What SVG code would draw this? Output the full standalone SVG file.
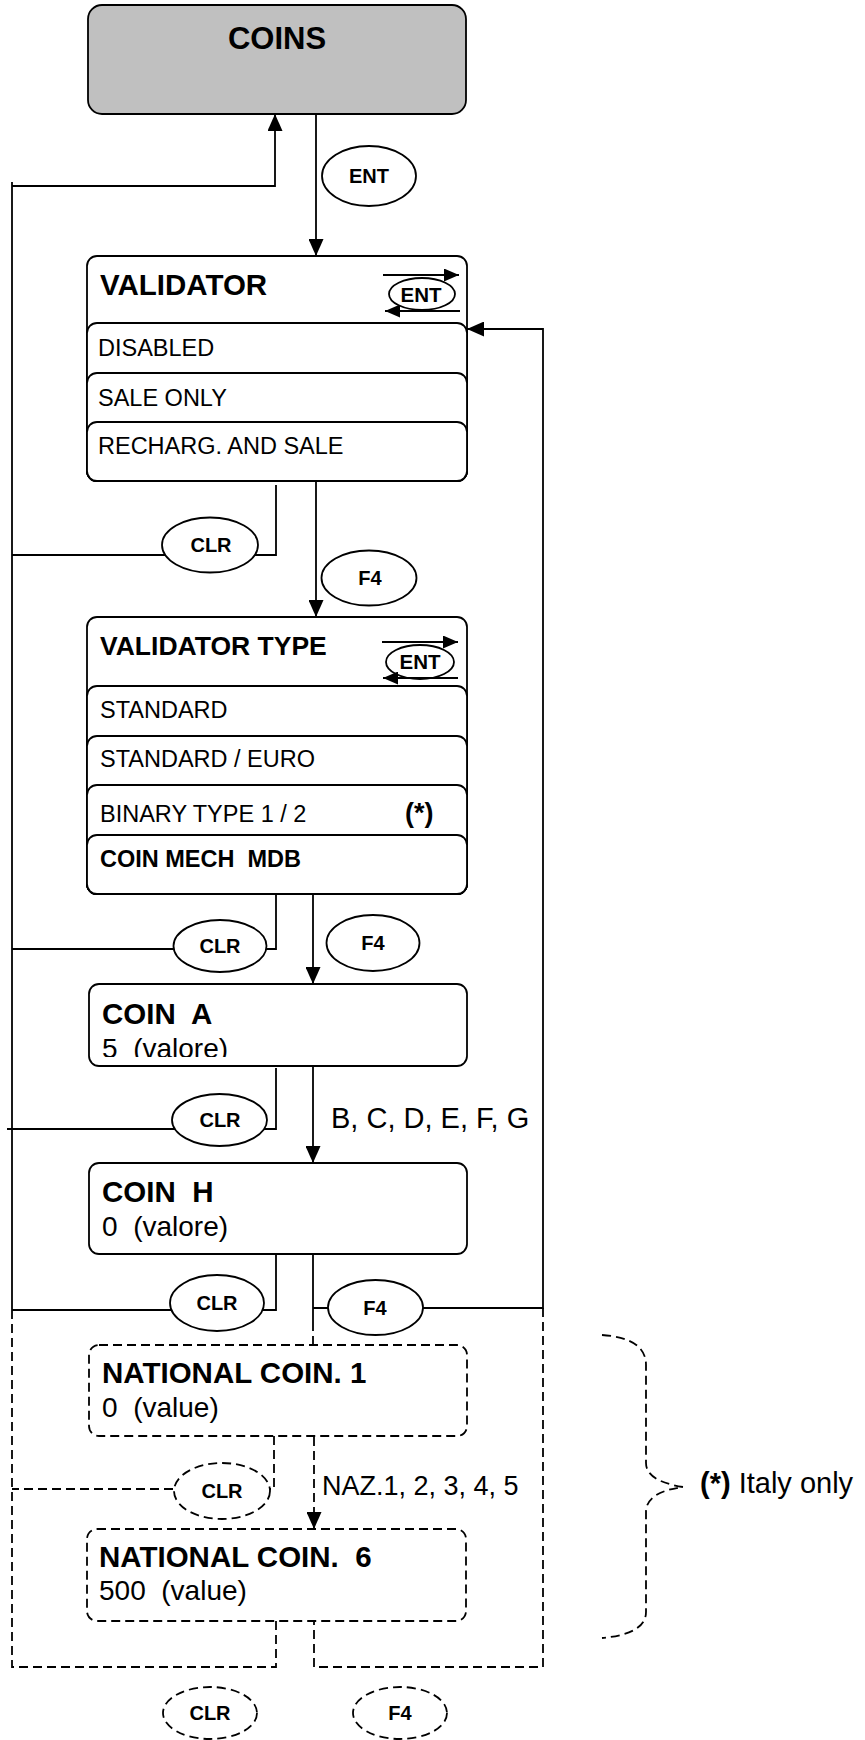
<svg xmlns="http://www.w3.org/2000/svg" width="865" height="1740" viewBox="0 0 865 1740">
<style>
text{font-family:"Liberation Sans",Arial,sans-serif;fill:#000;white-space:pre}
.b{font-weight:bold}
.box{fill:#fff;stroke:#000;stroke-width:1.8}
.dbox{fill:#fff;stroke:#000;stroke-width:1.8;stroke-dasharray:9 5}
.ln{fill:none;stroke:#000;stroke-width:1.8}
.dl{fill:none;stroke:#000;stroke-width:1.8;stroke-dasharray:9 5}
.ov{fill:#fff;stroke:#000;stroke-width:1.8}
.dov{fill:#fff;stroke:#000;stroke-width:1.8;stroke-dasharray:9 5}
.key{font-weight:bold;font-size:20px;text-anchor:middle}
.opt{font-size:23.5px}
.ttl{font-weight:bold;font-size:29.5px}
.val{font-size:28px}
</style>
<defs>
<marker id="arr" markerUnits="userSpaceOnUse" markerWidth="17" markerHeight="15" viewBox="0 0 17 15" refX="17" refY="7.5" orient="auto">
<path d="M0,0 L17,7.5 L0,15 z" fill="#000"/>
</marker>
<marker id="arrs" markerUnits="userSpaceOnUse" markerWidth="15" markerHeight="13" viewBox="0 0 15 13" refX="15" refY="6.5" orient="auto">
<path d="M0,0 L15,6.5 L0,13 z" fill="#000"/>
</marker>
<clipPath id="clipA"><rect x="89" y="984" width="378" height="73"/></clipPath>
</defs>

<g id="connectors">
<path class="ln" d="M12,182 V1310"/>
<path class="ln" d="M12,186 H275 V114" marker-end="url(#arr)"/>
<path class="ln" d="M316,112 V256" marker-end="url(#arr)"/>
<path class="ln" d="M276,485 V555 H12"/>
<path class="ln" d="M316,480 V617" marker-end="url(#arr)"/>
<path class="ln" d="M276,889 V949 H12"/>
<path class="ln" d="M313,894 V984" marker-end="url(#arr)"/>
<path class="ln" d="M276,1068 V1129 H7"/>
<path class="ln" d="M313,1067 V1163" marker-end="url(#arr)"/>
<path class="ln" d="M276,1255 V1310 H12"/>
<path class="ln" d="M313,1255 V1322"/>
<path class="ln" d="M313,1308 H543 V329 H467" marker-end="url(#arr)"/>
<path class="dl" d="M313,1322 V1345"/>
<path class="dl" d="M12,1310 V1667 H276 V1621"/>
<path class="dl" d="M543,1308 V1667 H314 V1621"/>
<path class="dl" d="M274,1436 V1489 H12"/>
<path class="dl" d="M314,1437 V1529" marker-end="url(#arr)"/>
<path class="dl" d="M602,1335 Q646,1338 646,1365 V1463 Q646,1481 683,1487 Q646,1492 646,1512 V1612 Q646,1634 602,1638"/>
</g>

<g id="coins">
<rect x="88" y="5" width="378" height="109" rx="14" fill="#c0c0c0" stroke="#000" stroke-width="1.8"/>
<text x="277" y="49" class="b" font-size="31" text-anchor="middle">COINS</text>
</g>

<g id="key-ent">
<ellipse class="ov" cx="369" cy="176" rx="47" ry="30"/>
<text class="key" x="369" y="183">ENT</text>
</g>

<g id="validator">
<rect class="box" x="87" y="256" width="380" height="225" rx="10"/>
<text class="ttl" x="100" y="295">VALIDATOR</text>
<ellipse class="ov" cx="422" cy="294" rx="33" ry="16"/>
<text x="421" y="302" class="b" font-size="20.5" text-anchor="middle">ENT</text>
<path class="ln" d="M383,275 H459" marker-end="url(#arrs)"/>
<path class="ln" d="M460,311 H385" marker-end="url(#arrs)"/>
<rect class="box" x="87" y="323" width="380" height="158" rx="10"/>
<text class="opt" x="98" y="356">DISABLED</text>
<rect class="box" x="87" y="373" width="380" height="108" rx="10"/>
<text class="opt" x="98" y="406">SALE ONLY</text>
<rect class="box" x="87" y="422" width="380" height="59" rx="10"/>
<text class="opt" x="98" y="454">RECHARG. AND SALE</text>
</g>

<g id="key-clr1">
<ellipse class="ov" cx="210" cy="545" rx="48" ry="27.5"/>
<text class="key" x="211" y="552">CLR</text>
</g>
<g id="key-f4-1">
<ellipse class="ov" cx="369" cy="578" rx="47.5" ry="27.5"/>
<text class="key" x="370" y="585">F4</text>
</g>

<g id="validator-type">
<rect class="box" x="87" y="617" width="380" height="277" rx="10"/>
<text class="b" font-size="26.5" x="100" y="655">VALIDATOR TYPE</text>
<ellipse class="ov" cx="420" cy="662" rx="34" ry="17"/>
<text x="420" y="669" class="b" font-size="20.5" text-anchor="middle">ENT</text>
<path class="ln" d="M382,642 H458" marker-end="url(#arrs)"/>
<path class="ln" d="M458,678 H383" marker-end="url(#arrs)"/>
<rect class="box" x="87" y="686" width="380" height="208" rx="10"/>
<text class="opt" x="100" y="718">STANDARD</text>
<rect class="box" x="87" y="736" width="380" height="158" rx="10"/>
<text class="opt" x="100" y="767">STANDARD / EURO</text>
<rect class="box" x="87" y="785" width="380" height="109" rx="10"/>
<text class="opt" x="100" y="822">BINARY TYPE 1 / 2</text>
<text class="b" font-size="27" x="405" y="822">(*)</text>
<rect class="box" x="87" y="835" width="380" height="59" rx="10"/>
<text class="b" font-size="23.5" x="100" y="867">COIN MECH  MDB</text>
</g>

<g id="key-clr2">
<ellipse class="ov" cx="220" cy="946" rx="46.5" ry="26"/>
<text class="key" x="220" y="953">CLR</text>
</g>
<g id="key-f4-2">
<ellipse class="ov" cx="373" cy="943" rx="46.5" ry="28"/>
<text class="key" x="373" y="950">F4</text>
</g>

<g id="coin-a">
<rect class="box" x="89" y="984" width="378" height="82" rx="10"/>
<text class="ttl" x="102" y="1024">COIN  A</text>
<text class="val" x="102" y="1058" clip-path="url(#clipA)">5  (valore)</text>
</g>

<g id="key-clr3">
<ellipse class="ov" cx="219.5" cy="1120" rx="47.5" ry="26"/>
<text class="key" x="220" y="1127">CLR</text>
</g>
<text x="331" y="1128" font-size="29">B, C, D, E, F, G</text>

<g id="coin-h">
<rect class="box" x="89" y="1163" width="378" height="91" rx="10"/>
<text class="ttl" x="102" y="1202">COIN  H</text>
<text class="val" x="102" y="1236">0  (valore)</text>
</g>

<g id="key-clr4">
<ellipse class="ov" cx="217" cy="1303" rx="47" ry="28"/>
<text class="key" x="217" y="1310">CLR</text>
</g>
<g id="key-f4-3">
<ellipse class="ov" cx="375.5" cy="1307.5" rx="47.5" ry="27.5"/>
<text class="key" x="375" y="1315">F4</text>
</g>

<g id="national-coin-1">
<rect class="dbox" x="89" y="1345" width="378" height="91" rx="10"/>
<text class="ttl" x="102" y="1383">NATIONAL COIN. 1</text>
<text class="val" x="102" y="1417">0  (value)</text>
</g>

<g id="key-clr5">
<ellipse class="dov" cx="222" cy="1491" rx="48" ry="28"/>
<text class="key" x="222" y="1498">CLR</text>
</g>
<text x="322" y="1495" font-size="27">NAZ.1, 2, 3, 4, 5</text>

<g id="national-coin-6">
<rect class="dbox" x="87" y="1529" width="379" height="92" rx="10"/>
<text class="ttl" x="99" y="1567">NATIONAL COIN.  6</text>
<text class="val" x="99" y="1600">500  (value)</text>
</g>

<g id="key-clr6">
<ellipse class="dov" cx="210" cy="1713" rx="47" ry="26"/>
<text class="key" x="210" y="1720">CLR</text>
</g>
<g id="key-f4-4">
<ellipse class="dov" cx="400" cy="1713" rx="47" ry="26"/>
<text class="key" x="400" y="1720">F4</text>
</g>

<g id="note">
<text x="700" y="1493" font-size="29"><tspan class="b">(*)</tspan> Italy only</text>
</g>
</svg>
